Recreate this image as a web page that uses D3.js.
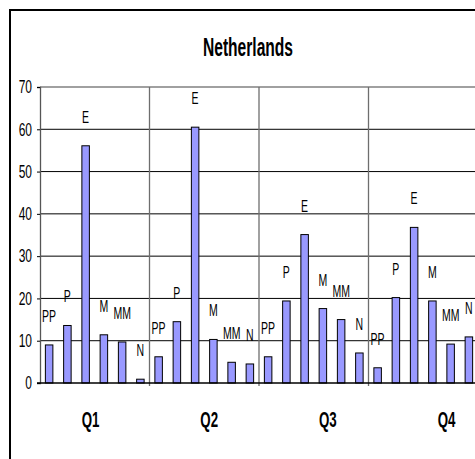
<!DOCTYPE html>
<html>
<head>
<meta charset="utf-8">
<script src="https://cdn.jsdelivr.net/npm/d3@7/dist/d3.min.js"></script>
<style>
  html, body { margin: 0; padding: 0; background: #fff; overflow: hidden; }
  svg { display: block; }
</style>
</head>
<body>
<svg id="chart" width="475" height="459"></svg>
<script>
// Quarterly values per group, Netherlands
const quarters = ["Q1", "Q2", "Q3", "Q4"];
const series = ["PP", "P", "E", "M", "MM", "N"];
const valuesPP = [9.0, 6.2, 6.2, 3.6];
const valuesP  = [13.6, 14.5, 19.4, 20.2];
const valuesE  = [56.1, 60.5, 35.1, 36.8];
const valuesM  = [11.4, 10.3, 17.6, 19.4];
const valuesMM = [9.7, 4.9, 15.0, 9.2];
const valuesN  = [0.9, 4.5, 7.1, 10.9];
const yTicks = [0, 10, 20, 30, 40, 50, 60, 70];
const title = "Netherlands";

const seriesValues = { PP: valuesPP, P: valuesP, E: valuesE, M: valuesM, MM: valuesMM, N: valuesN };
const rows = [];
quarters.forEach((q, qi) => series.forEach(s => rows.push({ q, s, v: seriesValues[s][qi] })));

const svg = d3.select("#chart");
const font = "'Liberation Sans', Arial, sans-serif";
const stretch = 1.6;

// outer chart frame (runs past the right and bottom edges)
svg.append("rect")
  .attr("x", 10).attr("y", 10).attr("width", 520).attr("height", 520)
  .attr("fill", "#fff").attr("stroke", "#000").attr("stroke-width", 2);

const plot = { left: 40, right: 478, top: 87, bottom: 383 };

const x0 = d3.scaleBand().domain(quarters).range([plot.left, plot.right]).padding(0);
const x1 = d3.scaleBand().domain(series).range([0, x0.bandwidth()]).padding(0);
const y = d3.scaleLinear().domain([0, 70]).range([plot.bottom, plot.top]);
const labelX = d3.scalePoint().domain(quarters).range([90, 446]);
const barW = 7.5;

// title
svg.append("text")
  .attr("transform", `translate(248,56) scale(1,1.65)`)
  .attr("text-anchor", "middle")
  .attr("font-family", font).attr("font-weight", "bold").attr("font-size", 15.6)
  .attr("fill", "#000")
  .text(title);

// horizontal gridlines
svg.append("g").selectAll("line")
  .data(yTicks.filter(t => t > 0 && t < 70))
  .join("line")
  .attr("x1", plot.left).attr("x2", plot.right)
  .attr("y1", d => y(d)).attr("y2", d => y(d))
  .attr("stroke", "#000").attr("stroke-width", 1);

// plot area border (top)
svg.append("line")
  .attr("x1", plot.left).attr("x2", plot.right)
  .attr("y1", y(70)).attr("y2", y(70))
  .attr("stroke", "#808080").attr("stroke-width", 1.5);

// category separators
svg.append("g").selectAll("line")
  .data(quarters.slice(1))
  .join("line")
  .attr("x1", d => x0(d)).attr("x2", d => x0(d))
  .attr("y1", plot.top).attr("y2", plot.bottom + 3)
  .attr("stroke", "#6e6e6e").attr("stroke-width", 1.3);

// bars
svg.append("g").selectAll("rect")
  .data(rows)
  .join("rect")
  .attr("x", d => x0(d.q) + x1(d.s) + x1.bandwidth() / 2 - barW / 2)
  .attr("y", d => y(d.v))
  .attr("width", barW)
  .attr("height", d => y(0) - y(d.v))
  .attr("fill", "#9999ff")
  .attr("stroke", "#000").attr("stroke-width", 1);

// series name labels above bars
svg.append("g").selectAll("text")
  .data(rows)
  .join("text")
  .attr("transform", d => `translate(${x0(d.q) + x1(d.s) + x1.bandwidth() / 2},${y(d.v) - 23}) scale(1,${stretch})`)
  .attr("text-anchor", "middle")
  .attr("font-family", font).attr("font-size", 10.5)
  .attr("fill", "#000")
  .text(d => d.s);

// y axis
const yAxis = svg.append("g")
  .attr("transform", `translate(${plot.left},0)`)
  .call(d3.axisLeft(y).tickValues(yTicks).tickSize(3).tickPadding(5).tickFormat(d3.format("d")));
yAxis.select(".domain").attr("stroke", "#555").attr("stroke-width", 1.3);
yAxis.selectAll(".tick line").attr("stroke", "#000");
yAxis.selectAll(".tick text")
  .attr("font-family", font).attr("font-size", 12).attr("fill", "#000")
  .attr("transform", "scale(1,1.5)");

// zero axis line
svg.append("line")
  .attr("x1", plot.left - 3).attr("x2", plot.right)
  .attr("y1", y(0)).attr("y2", y(0))
  .attr("stroke", "#000").attr("stroke-width", 1.3);

// category labels
const xAxis = svg.append("g")
  .attr("transform", `translate(0,${plot.bottom})`)
  .call(d3.axisBottom(labelX).tickSize(0).tickPadding(0));
xAxis.select(".domain").remove();
xAxis.selectAll(".tick text")
  .attr("y", 0).attr("dy", 0)
  .attr("transform", "translate(0,44) scale(1,1.6)")
  .attr("font-family", font).attr("font-weight", "bold").attr("font-size", 13.3)
  .attr("fill", "#000");
</script>
</body>
</html>
